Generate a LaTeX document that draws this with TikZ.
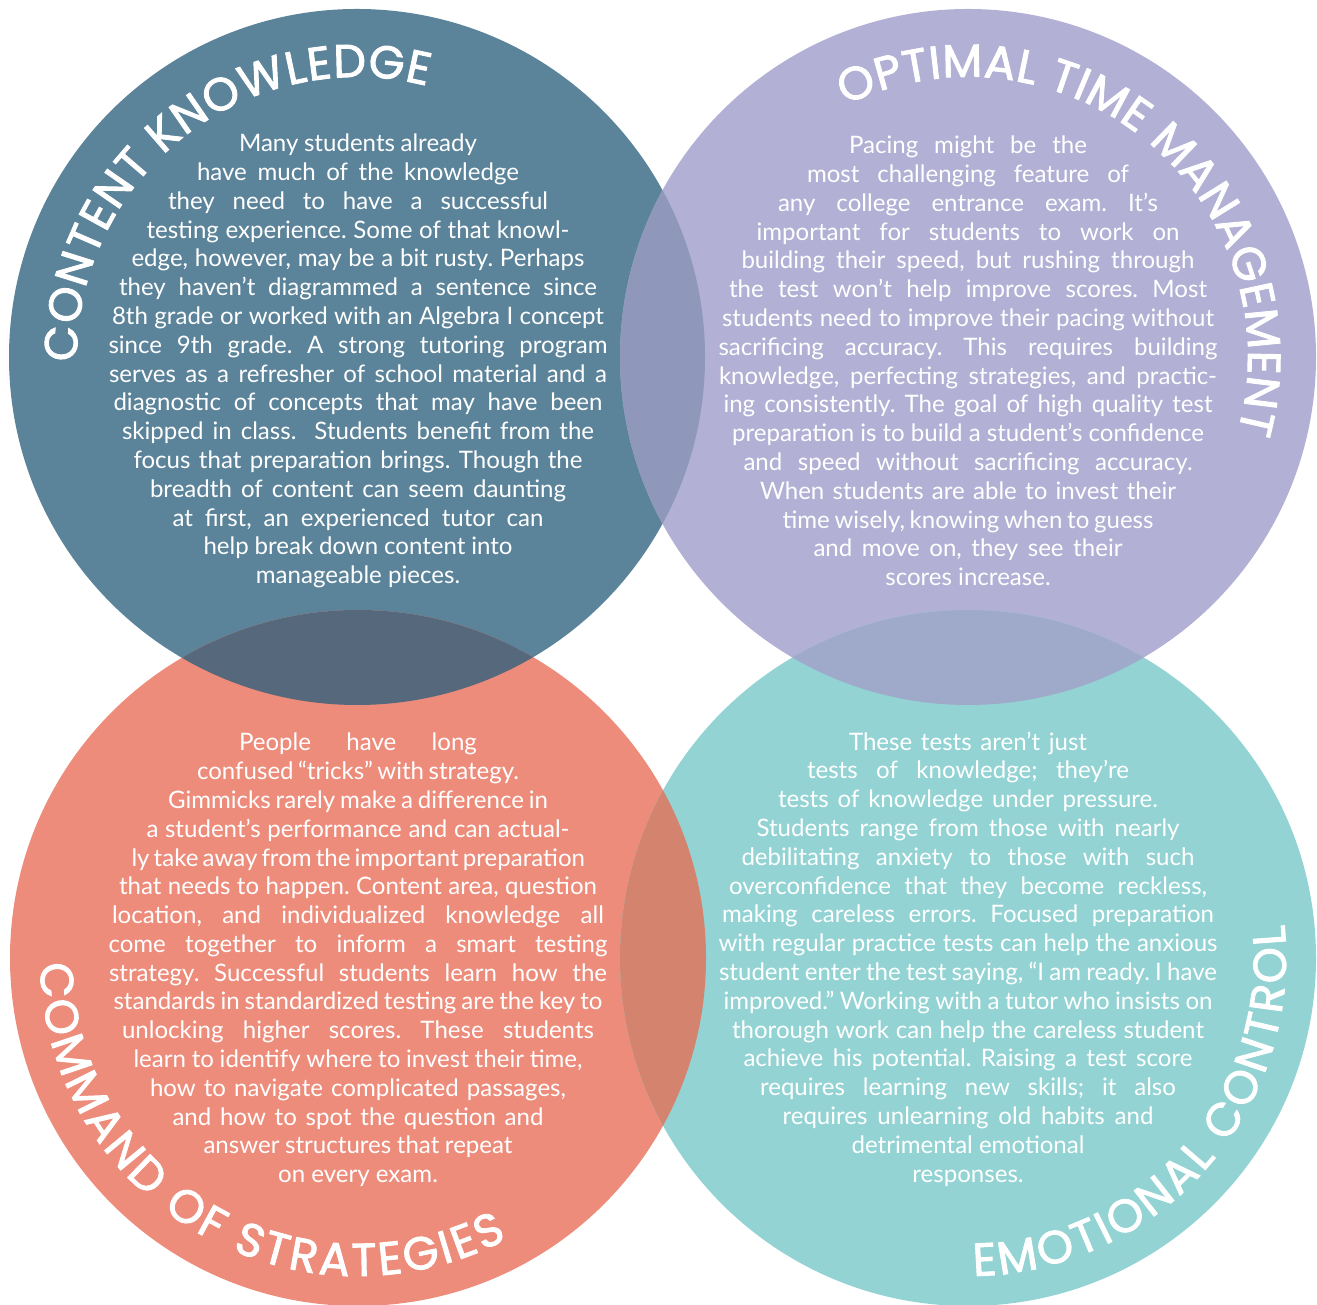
\documentclass[tikz,border=0pt]{standalone}
\usepackage{fontspec}
\setmainfont{Lato}
\newfontfamily\titlefont{Poppins}[FakeBold=2]
\usetikzlibrary{decorations.text}
\newlength\pxu
\setlength\pxu{0.02cm}
\newcommand\jl[2]{\makebox[#1\pxu][s]{#2}\\}
\definecolor{ckblue}{HTML}{5B8399}
\definecolor{tmlav}{HTML}{B2B0D4}
\definecolor{cssalmon}{HTML}{ED8C7B}
\definecolor{ecteal}{HTML}{93D3D3}
\definecolor{ckovertm}{HTML}{8F98BA}
\definecolor{ckovercs}{HTML}{56687C}
\definecolor{csoverec}{HTML}{D4836F}
\definecolor{tmoverec}{HTML}{9FA9C9}
\begin{document}
\begin{tikzpicture}[x=0.02cm,y=0.02cm,
  body/.style={text=white,align=center,inner sep=0pt,font=\fontsize{13.7pt}{16.39pt}\selectfont\frenchspacing},
  title/.style={decorate,decoration={text along path,text color=white,text align=fit to path,
    text={|\titlefont\fontsize{26.3pt}{26.3pt}\selectfont|#1}}}]
            \useasboundingbox(0,0)rectangle(1317,1304);
            \fill[ckblue](357,947)circle(348);
            \fill[tmlav](968,947)circle(348);
            \fill[cssalmon](358,346)circle(348);
            \fill[ecteal](968,346)circle(348);
            \begin{scope}
                \clip(357,947)circle(348);
                \fill[ckovertm](968,947)circle(348);
                \fill[ckovercs](358,346)circle(348);
            \end{scope}
            \begin{scope}
                \clip(968,346)circle(348);
                \fill[csoverec](358,346)circle(348);
                \fill[tmoverec](968,947)circle(348);
            \end{scope}
            \path[title={CONTENT KNOWLEDGE}](357,947)++(181:280)arc[start angle=181,end angle=75.5,radius=280];
            \path[title={OPTIMAL TIME MANAGEMENT}](968,947)++(116:280)arc[start angle=116,end angle=-15.5,radius=280];
            \path[title={COMMAND OF STRATEGIES}](358,346)++(181:318)arc[start angle=181,end angle=298,radius=318];
            \path[title={EMOTIONAL CONTROL}](968,346)++(271:318)arc[start angle=271,end angle=366,radius=318];
            \node[body](ckbody)at(358,943){\jl{238}{Many students already}\jl{322}{have much of the knowledge}\jl{380}{they need to have a successful}\jl{423}{testing experience. Some of that knowl-}\jl{453}{edge, however, may be a bit rusty. Perhaps}\jl{478}{they haven’t diagrammed a sentence since}\jl{492}{8th grade or worked with an Algebra I concept}\jl{499}{since 9th grade. A strong tutoring program}\jl{498}{serves as a refresher of school material and a}\jl{489}{diagnostic of concepts that may have been}\jl{472}{skipped in class.\ \ Students benefit from the}\jl{449}{focus that preparation brings. Though the}\jl{416}{breadth of content can seem daunting}\jl{371}{at first, an experienced tutor can}\jl{309}{help break down content into}manageable pieces.};
            \node[body](tmbody)at(968,943){\jl{238}{Pacing might be the}\jl{322}{most challenging feature of}\jl{380}{any college entrance exam. It’s}\jl{423}{important for students to work on}\jl{453}{building their speed, but rushing through}\jl{478}{the test won’t help improve scores. Most}\jl{492}{students need to improve their pacing without}\jl{499}{sacrificing accuracy. This requires building}\jl{498}{knowledge, perfecting strategies, and practic-}\jl{489}{ing consistently. The goal of high quality test}\jl{472}{preparation is to build a student’s confidence}\jl{449}{and speed without sacrificing accuracy.}\jl{416}{When students are able to invest their}\jl{371}{time wisely, knowing when to guess}\jl{309}{and move on, they see their}scores increase.};
            \node[body](csbody)at(358,344){\jl{238}{People have long}\jl{322}{confused “tricks” with strategy.}\jl{380}{Gimmicks rarely make a difference in}\jl{423}{a student’s performance and can actual-}\jl{453}{ly take away from the important preparation}\jl{478}{that needs to happen. Content area, question}\jl{492}{location, and individualized knowledge all}\jl{499}{come together to inform a smart testing}\jl{498}{strategy. Successful students learn how the}\jl{489}{standards in standardized testing are the key to}\jl{472}{unlocking higher scores. These students}\jl{449}{learn to identify where to invest their time,}\jl{416}{how to navigate complicated passages,}\jl{371}{and how to spot the question and}\jl{309}{answer structures that repeat}on every exam.};
            \node[body](ecbody)at(968,345){\jl{238}{These tests aren’t just}\jl{322}{tests of knowledge; they’re}\jl{380}{tests of knowledge under pressure.}\jl{423}{Students range from those with nearly}\jl{453}{debilitating anxiety to those with such}\jl{478}{overconfidence that they become reckless,}\jl{492}{making careless errors. Focused preparation}\jl{499}{with regular practice tests can help the anxious}\jl{498}{student enter the test saying, “I am ready. I have}\jl{489}{improved.” Working with a tutor who insists on}\jl{472}{thorough work can help the careless student}\jl{449}{achieve his potential. Raising a test score}\jl{416}{requires learning new skills; it also}\jl{371}{requires unlearning old habits and}detrimental emotional\\responses.};
        \end{tikzpicture}
\end{document}
